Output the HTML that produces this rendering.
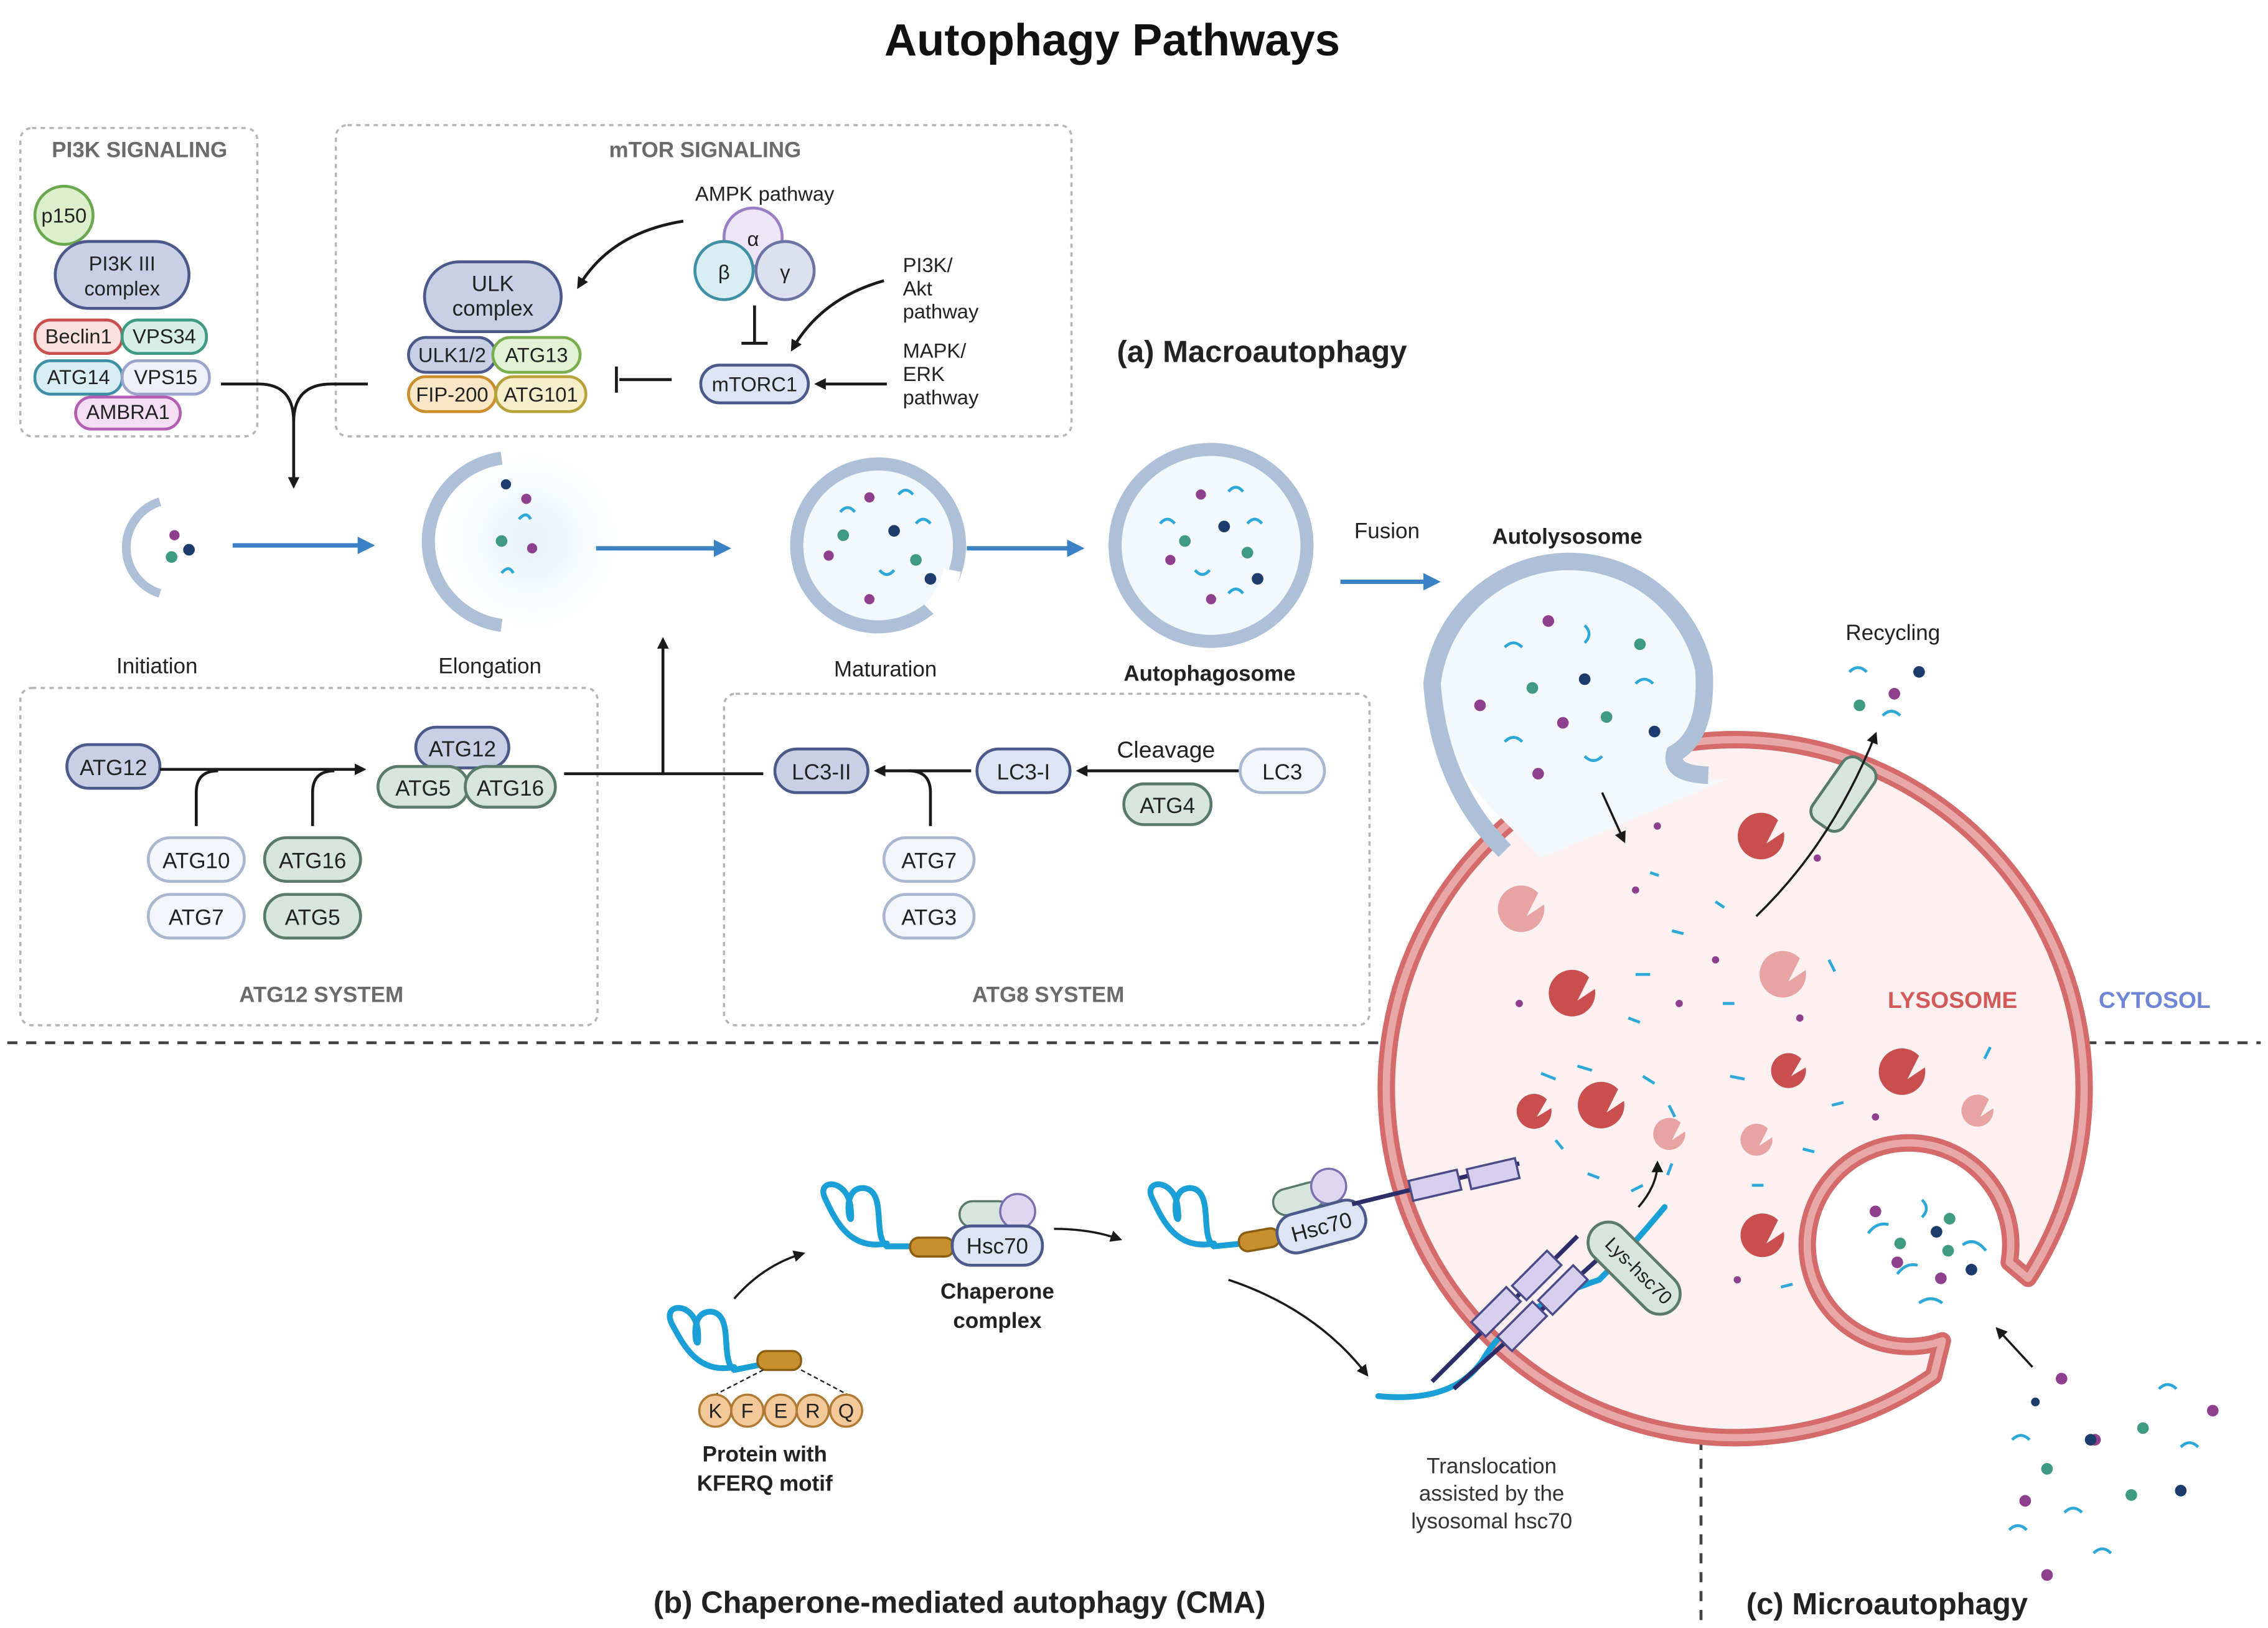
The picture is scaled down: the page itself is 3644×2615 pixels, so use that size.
<!DOCTYPE html>
<html><head><meta charset="utf-8"><style>
html,body{margin:0;padding:0;background:#fff;}
svg{display:block;}
text{font-family:"Liberation Sans",sans-serif;}
</style></head><body>
<svg width="3644" height="2615" viewBox="0 0 1560 1119.4" xmlns="http://www.w3.org/2000/svg">
<defs>
<marker id="ab" markerWidth="8" markerHeight="8" refX="6" refY="4" orient="auto" markerUnits="userSpaceOnUse"><path d="M0,0 L8,4 L0,8 z" fill="#1a1a1a"/></marker>
<marker id="bl" markerWidth="12" markerHeight="12" refX="9" refY="6" orient="auto" markerUnits="userSpaceOnUse"><path d="M0,0 L12,6 L0,12 z" fill="#3b82c4"/></marker>
<radialGradient id="vg" cx="0.5" cy="0.5" r="0.5"><stop offset="0" stop-color="#e6f2fa"/><stop offset="1" stop-color="#ffffff"/></radialGradient>
</defs>
<rect width="1560" height="1120" fill="#fff"/>
<text x="765" y="38" font-size="31" font-weight="bold" text-anchor="middle" fill="#111">Autophagy Pathways</text>

<g fill="none" stroke="#b5b5b5" stroke-width="1.5" stroke-dasharray="3,3">
<rect x="14" y="88" width="163" height="212" rx="8"/>
<rect x="231" y="86" width="506" height="214" rx="8"/>
<rect x="14" y="473" width="397" height="232" rx="8"/>
<rect x="498" y="477" width="444" height="228" rx="8"/>
</g>
<g font-size="15" font-weight="bold" fill="#6b6b6b" text-anchor="middle">
<text x="96" y="108">PI3K SIGNALING</text>
<text x="485" y="108">mTOR SIGNALING</text>
<text x="221" y="689">ATG12 SYSTEM</text>
<text x="721" y="689">ATG8 SYSTEM</text>
</g>

<g font-size="14" text-anchor="middle" fill="#222">
<circle cx="44" cy="148" r="20" fill="#dcefcc" stroke="#6aa84f" stroke-width="2"/><text x="44" y="153">p150</text>
<rect x="38" y="166" width="92" height="46" rx="23" fill="#c9d0e6" stroke="#4b5a8a" stroke-width="2"/>
<text x="84" y="186">PI3K III</text><text x="84" y="203">complex</text>
<rect x="24" y="220" width="60" height="23" rx="11" fill="#fbe0e0" stroke="#c94f4f" stroke-width="2"/><text x="54" y="236">Beclin1</text>
<rect x="84" y="220" width="58" height="23" rx="11" fill="#d6efe6" stroke="#3f9a82" stroke-width="2"/><text x="113" y="236">VPS34</text>
<rect x="24" y="248" width="60" height="23" rx="11" fill="#d8eef3" stroke="#3f8fa6" stroke-width="2"/><text x="54" y="264">ATG14</text>
<rect x="84" y="248" width="60" height="23" rx="11" fill="#eef0fa" stroke="#9da4cc" stroke-width="2"/><text x="114" y="264">VPS15</text>
<rect x="52" y="273" width="72" height="22" rx="11" fill="#f3def3" stroke="#b45fb4" stroke-width="2"/><text x="88" y="288">AMBRA1</text>
</g>

<g font-size="14" text-anchor="middle" fill="#222">
<rect x="292" y="180" width="94" height="48" rx="24" fill="#c9d0e6" stroke="#4b5a8a" stroke-width="2"/>
<text x="339" y="200" font-size="15">ULK</text><text x="339" y="217" font-size="15">complex</text>
<rect x="281" y="232" width="60" height="24" rx="12" fill="#c9d0e6" stroke="#4b5a8a" stroke-width="2"/><text x="311" y="249">ULK1/2</text>
<rect x="339" y="232" width="60" height="24" rx="12" fill="#e2f2d5" stroke="#79ad4f" stroke-width="2"/><text x="369" y="249">ATG13</text>
<rect x="281" y="259" width="60" height="24" rx="12" fill="#fbe6c5" stroke="#c98f2c" stroke-width="2"/><text x="311" y="276">FIP-200</text>
<rect x="341" y="259" width="62" height="24" rx="12" fill="#f6efcc" stroke="#b8a23b" stroke-width="2"/><text x="372" y="276">ATG101</text>
<circle cx="518" cy="163" r="20" fill="#ede6f6" stroke="#9b7fc4" stroke-width="2"/><text x="518" y="169">α</text>
<circle cx="498" cy="186" r="20" fill="#d8eef3" stroke="#3f8fa6" stroke-width="2"/><text x="498" y="192">β</text>
<circle cx="540" cy="186" r="20" fill="#dde0ef" stroke="#6c74a6" stroke-width="2"/><text x="540" y="192">γ</text>
<rect x="482" y="251" width="74" height="26" rx="13" fill="#dde4f3" stroke="#4b5a8a" stroke-width="2"/><text x="519" y="269">mTORC1</text>
</g>
<g font-size="14" fill="#222">
<text x="526" y="138" text-anchor="middle">AMPK pathway</text>
<text x="621" y="187">PI3K/</text><text x="621" y="203">Akt</text><text x="621" y="219">pathway</text>
<text x="621" y="246">MAPK/</text><text x="621" y="262">ERK</text><text x="621" y="278">pathway</text>
</g>
<g fill="none" stroke="#1a1a1a" stroke-width="2">
<path d="M470,152 Q420,160 398,197" marker-end="url(#ab)"/>
<path d="M608,193 Q565,205 545,240" marker-end="url(#ab)"/>
<path d="M610,264 L562,264" marker-end="url(#ab)"/>
<path d="M519,210 L519,236 M510,236 L528,236"/>
<path d="M462,261 L426,261 M424,252 L424,270"/>
<path d="M152,264 L178,264 Q202,264 202,290 M253,264 L228,264 Q202,264 202,290 L202,328" />
</g>
<path d="M202,326 L202,334" stroke="#1a1a1a" stroke-width="2" marker-end="url(#ab)"/>

<text x="868" y="249" font-size="21" font-weight="bold" fill="#222" text-anchor="middle">(a) Macroautophagy</text>

<path d="M110,345 A33,33 0 0 0 110,408" fill="none" stroke="#aebfd8" stroke-width="6"/>
<circle cx="120" cy="368" r="3.5" fill="#8e3f8e"/><circle cx="118" cy="383" r="4" fill="#3f9a82"/><circle cx="130" cy="378" r="4" fill="#1d3c6e"/>
<path d="M160,375 L255,375" stroke="#3b82c4" stroke-width="3" marker-end="url(#bl)"/>
<circle cx="365" cy="372" r="60" fill="url(#vg)"/>
<path d="M345,315 A58,58 0 0 0 345,430" fill="none" stroke="#aebfd8" stroke-width="9"/>
<circle cx="348" cy="333" r="3.5" fill="#1d3c6e"/><circle cx="362" cy="343" r="3.5" fill="#8e3f8e"/><circle cx="345" cy="372" r="4" fill="#3f9a82"/><circle cx="366" cy="377" r="3.5" fill="#8e3f8e"/>
<path d="M357,357 q5,-6 8,0 M345,394 q5,-6 8,0" stroke="#2ea8d8" stroke-width="2" fill="none"/>
<path d="M410,377 L500,377" stroke="#3b82c4" stroke-width="3" marker-end="url(#bl)"/>
<circle cx="604" cy="375" r="56" fill="#f2f8fc" stroke="#aebfd8" stroke-width="9"/>
<path d="M640,420 A56,56 0 0 0 655,392" stroke="#fff" stroke-width="12" fill="none"/>
<path d="M665,377 L743,377" stroke="#3b82c4" stroke-width="3" marker-end="url(#bl)"/>
<circle cx="833" cy="375" r="66" fill="#f2f8fc" stroke="#aebfd8" stroke-width="9"/>
<g fill="#3f9a82"><circle cx="580" cy="368" r="4"/><circle cx="630" cy="385" r="4"/><circle cx="815" cy="372" r="4"/><circle cx="858" cy="380" r="4"/></g>
<g fill="#8e3f8e"><circle cx="598" cy="342" r="3.5"/><circle cx="570" cy="382" r="3.5"/><circle cx="598" cy="412" r="3.5"/><circle cx="826" cy="340" r="3.5"/><circle cx="805" cy="385" r="3.5"/><circle cx="833" cy="412" r="3.5"/></g>
<g fill="#1d3c6e"><circle cx="615" cy="365" r="4"/><circle cx="640" cy="398" r="4"/><circle cx="842" cy="362" r="4"/><circle cx="865" cy="398" r="4"/></g>
<g stroke="#2ea8d8" stroke-width="2" fill="none"><path d="M578,352 q5,-6 10,0 M618,340 q5,-6 10,0 M605,392 q5,6 10,0 M630,360 q5,-6 10,0 M798,360 q5,-6 10,0 M845,338 q5,-6 10,0 M822,392 q5,6 10,0 M858,360 q5,-6 10,0 M845,408 q5,-6 10,0"/></g>
<path d="M922,400 L988,400" stroke="#3b82c4" stroke-width="3" marker-end="url(#bl)"/>
<g font-size="15" fill="#222" text-anchor="middle">
<text x="108" y="463">Initiation</text><text x="337" y="463">Elongation</text><text x="609" y="465">Maturation</text>
<text x="954" y="370">Fusion</text><text x="1302" y="440">Recycling</text>
</g>
<text x="832" y="468" font-size="15" font-weight="bold" fill="#222" text-anchor="middle">Autophagosome</text>
<text x="1078" y="374" font-size="15" font-weight="bold" fill="#222" text-anchor="middle">Autolysosome</text>

<g font-size="15" text-anchor="middle" fill="#222">
<rect x="46" y="512" width="64" height="30" rx="15" fill="#c9d0e6" stroke="#4b5a8a" stroke-width="2"/><text x="78" y="533">ATG12</text>
<rect x="286" y="500" width="64" height="28" rx="14" fill="#c9d0e6" stroke="#4b5a8a" stroke-width="2"/><text x="318" y="520">ATG12</text>
<rect x="260" y="527" width="62" height="28" rx="14" fill="#d7e5df" stroke="#5a7a6c" stroke-width="2"/><text x="291" y="547">ATG5</text>
<rect x="320" y="527" width="62" height="28" rx="14" fill="#d7e5df" stroke="#5a7a6c" stroke-width="2"/><text x="351" y="547">ATG16</text>
<rect x="102" y="576" width="66" height="30" rx="15" fill="#f3f6fb" stroke="#a9b8d0" stroke-width="2"/><text x="135" y="597">ATG10</text>
<rect x="102" y="615" width="66" height="30" rx="15" fill="#f3f6fb" stroke="#a9b8d0" stroke-width="2"/><text x="135" y="636">ATG7</text>
<rect x="182" y="576" width="66" height="30" rx="15" fill="#d7e5df" stroke="#5a7a6c" stroke-width="2"/><text x="215" y="597">ATG16</text>
<rect x="182" y="615" width="66" height="30" rx="15" fill="#d7e5df" stroke="#5a7a6c" stroke-width="2"/><text x="215" y="636">ATG5</text>
<rect x="533" y="515" width="64" height="30" rx="15" fill="#c9d0e6" stroke="#4b5a8a" stroke-width="2"/><text x="565" y="536">LC3-II</text>
<rect x="672" y="515" width="64" height="30" rx="15" fill="#dde4f3" stroke="#4b5a8a" stroke-width="2"/><text x="704" y="536">LC3-I</text>
<rect x="853" y="515" width="58" height="30" rx="15" fill="#f3f6fb" stroke="#a9b8d0" stroke-width="2"/><text x="882" y="536">LC3</text>
<rect x="773" y="539" width="60" height="28" rx="14" fill="#d7e5df" stroke="#5a7a6c" stroke-width="2"/><text x="803" y="559">ATG4</text>
<rect x="608" y="576" width="62" height="30" rx="15" fill="#f3f6fb" stroke="#a9b8d0" stroke-width="2"/><text x="639" y="597">ATG7</text>
<rect x="608" y="615" width="62" height="30" rx="15" fill="#f3f6fb" stroke="#a9b8d0" stroke-width="2"/><text x="639" y="636">ATG3</text>
<text x="802" y="521" font-size="16">Cleavage</text>
</g>
<g fill="none" stroke="#1a1a1a" stroke-width="2">
<path d="M110,529 L250,529" marker-end="url(#ab)"/>
<path d="M135,568 L135,545 Q135,530 150,530"/>
<path d="M215,568 L215,545 Q215,530 230,530"/>
<path d="M388,532 L525,532"/>
<path d="M456,532 L456,440" marker-end="url(#ab)"/>
<path d="M852,530 L742,530" marker-end="url(#ab)"/>
<path d="M668,530 L603,530" marker-end="url(#ab)"/>
<path d="M640,568 L640,545 Q640,530 625,530"/>
</g>

<line x1="5" y1="717" x2="1555" y2="717" stroke="#444" stroke-width="2" stroke-dasharray="7,6"/>
<line x1="1170" y1="717" x2="1170" y2="1119" stroke="#444" stroke-width="2" stroke-dasharray="7,6"/>

<!-- lysosome with microautophagy invagination -->
<path d="M1330,946 A240,240 0 1 1 1395,879 L1382,868 A70,70 0 1 0 1336,922 Z" fill="#fcf0f0" stroke="#d46a6a" stroke-width="12" stroke-linejoin="round"/>
<path d="M1330,946 A240,240 0 1 1 1395,879 L1382,868 A70,70 0 1 0 1336,922 Z" fill="none" stroke="#e8a8a8" stroke-width="5" stroke-linejoin="round"/>
<!-- autolysosome bulb -->
<path d="M1030,560 Q990,520 985,470 A95,95 0 0 1 1170,455 Q1175,500 1150,520 Q1160,540 1190,535 L1060,590 Z" fill="#f2f8fc"/>
<path d="M1035,585 Q990,540 985,470 A95,95 0 0 1 1172,460 Q1175,505 1152,518 Q1148,532 1175,533" fill="none" stroke="#aebfd8" stroke-width="12"/>
<text x="1343" y="693" font-size="16" font-weight="bold" fill="#d45a5a" text-anchor="middle">LYSOSOME</text>
<text x="1482" y="693" font-size="16" font-weight="bold" fill="#6f86d6" text-anchor="middle">CYTOSOL</text>
<g fill="#c94f4f">
<path d="M1215,580 l12,-8 a16,16 0 1 1 -4,-8 z"/>
<path d="M1085,688 l12,-8 a16,16 0 1 1 -4,-8 z"/>
<path d="M1105,765 l12,-8 a16,16 0 1 1 -4,-8 z"/>
<path d="M1312,742 l12,-8 a16,16 0 1 1 -4,-8 z"/>
<path d="M1232,740 l10,-6 a12,12 0 1 1 -3,-6 z"/>
<path d="M1057,768 l10,-6 a12,12 0 1 1 -3,-6 z"/>
<path d="M1215,855 l12,-8 a15,15 0 1 1 -4,-8 z"/>
</g>
<g fill="#e8a3a3">
<path d="M1050,630 l12,-8 a16,16 0 1 1 -4,-8 z"/>
<path d="M1230,675 l12,-8 a16,16 0 1 1 -4,-8 z"/>
<path d="M1150,784 l9,-6 a11,11 0 1 1 -3,-6 z"/>
<path d="M1210,788 l9,-6 a11,11 0 1 1 -3,-6 z"/>
<path d="M1362,768 l9,-6 a11,11 0 1 1 -3,-6 z"/>
</g>
<g fill="#8e3f8e"><circle cx="1065" cy="427" r="4"/><circle cx="1018" cy="485" r="4"/><circle cx="1075" cy="497" r="4"/><circle cx="1058" cy="532" r="4"/><circle cx="1303" cy="477" r="4"/><circle cx="1290" cy="833" r="4"/><circle cx="1305" cy="868" r="4"/><circle cx="1335" cy="879" r="4"/><circle cx="1418" cy="948" r="4"/><circle cx="1393" cy="1032" r="4"/><circle cx="1408" cy="1083" r="4"/><circle cx="1522" cy="970" r="4"/><circle cx="1441" cy="990" r="4"/></g>
<g fill="#3f9a82"><circle cx="1128" cy="443" r="4"/><circle cx="1054" cy="473" r="4"/><circle cx="1105" cy="493" r="4"/><circle cx="1279" cy="485" r="4"/><circle cx="1307" cy="855" r="4"/><circle cx="1340" cy="860" r="4"/><circle cx="1341" cy="838" r="4"/><circle cx="1408" cy="1010" r="4"/><circle cx="1466" cy="1028" r="4"/><circle cx="1474" cy="982" r="4"/></g>
<g fill="#1d3c6e"><circle cx="1090" cy="467" r="4"/><circle cx="1138" cy="503" r="4"/><circle cx="1320" cy="462" r="4"/><circle cx="1332" cy="847" r="4"/><circle cx="1356" cy="873" r="4"/><circle cx="1438" cy="990" r="4"/><circle cx="1500" cy="1025" r="4"/><circle cx="1400" cy="964" r="3"/></g>
<g stroke="#2ea8d8" stroke-width="2" fill="none">
<path d="M1035,445 q6,-6 12,0 M1090,430 q6,6 0,12 M1125,470 q6,-6 12,0 M1035,510 q6,-6 12,0 M1090,520 q6,6 12,0 M1272,462 q6,-6 12,0 M1295,492 q6,-6 12,0 M1322,825 q6,6 0,12 M1285,848 q6,-8 14,-6 M1305,876 q6,-8 14,-6 M1350,856 q8,-6 16,4 M1320,896 q8,-6 16,0 M1384,990 q6,-6 12,0 M1420,1040 q6,-6 12,0 M1382,1052 q6,-6 12,0 M1440,1068 q6,-6 12,0 M1485,955 q6,-6 12,0 M1500,995 q6,-6 12,0"/>
<path d="M1060,738 l10,4 M1085,733 l10,3 M1130,740 l8,5 M1148,760 l4,8 M1150,800 l-3,8 M1130,815 l-8,4 M1100,810 l-8,-3 M1075,790 l-5,-6 M1190,740 l10,2 M1240,790 l8,2 M1260,760 l8,-2 M1365,728 l4,-8 M1205,815 l8,0 M1225,885 l8,-2 M1125,670 l10,0 M1150,640 l8,2 M1180,620 l6,4 M1185,690 l8,0 M1258,660 l4,8 M1120,700 l8,3 M1135,600 l6,2"/>
</g>
<g fill="#8e3f8e"><circle cx="1140" cy="568" r="2.5"/><circle cx="1125" cy="612" r="2.5"/><circle cx="1180" cy="660" r="2.5"/><circle cx="1045" cy="690" r="2.5"/><circle cx="1250" cy="590" r="2.5"/><circle cx="1238" cy="700" r="2.5"/><circle cx="1155" cy="690" r="2.5"/><circle cx="1290" cy="768" r="2.5"/><circle cx="1195" cy="880" r="2.5"/></g>
<rect x="1255" y="520" width="26" height="52" rx="8" fill="#d7e5df" stroke="#5a7a6c" stroke-width="2" transform="rotate(35 1268 546)"/>
<path d="M1208,630 Q1260,580 1290,505" fill="none" stroke="#1a1a1a" stroke-width="1.5" marker-end="url(#ab)"/>
<path d="M1102,545 L1117,578" stroke="#1a1a1a" stroke-width="1.5" marker-end="url(#ab)"/>

<g stroke="#1a9fd6" stroke-width="4" fill="none" stroke-linecap="round">
<path d="M505,940 C480,945 470,925 462,910 C455,895 478,895 480,915 C482,940 470,900 490,902 C505,905 495,935 505,942 L525,938"/>
<path d="M610,855 C585,860 575,840 568,825 C560,810 583,810 585,830 C588,855 575,815 595,817 C610,820 600,850 610,857 L630,857"/>
<path d="M835,855 C810,860 800,840 793,825 C785,810 808,810 810,830 C813,855 800,815 820,817 C835,820 825,850 835,857 L855,855"/>
<path d="M948,960 Q1000,965 1020,935 Q1040,900 1100,880 Q1120,860 1145,830"/>
</g>
<rect x="521" y="929" width="30" height="13" rx="6" fill="#c8902c" stroke="#8a5e12" stroke-width="1.5"/>
<rect x="626" y="851" width="30" height="13" rx="6" fill="#c8902c" stroke="#8a5e12" stroke-width="1.5"/>
<rect x="852" y="846" width="28" height="13" rx="6" fill="#c8902c" stroke="#8a5e12" stroke-width="1.5" transform="rotate(-10 866 852)"/>
<g stroke="#222" stroke-width="1" stroke-dasharray="3,2"><line x1="525" y1="942" x2="490" y2="960"/><line x1="551" y1="942" x2="585" y2="960"/></g>
<g font-size="14" text-anchor="middle" fill="#222">
<g fill="#f3c99a" stroke="#b07a34" stroke-width="1.5">
<circle cx="492" cy="970" r="11"/><circle cx="514" cy="970" r="11"/><circle cx="537" cy="970" r="11"/><circle cx="559" cy="970" r="11"/><circle cx="582" cy="970" r="11"/></g>
<text x="492" y="975">K</text><text x="514" y="975">F</text><text x="537" y="975">E</text><text x="559" y="975">R</text><text x="582" y="975">Q</text>
</g>
<rect x="660" y="826" width="36" height="18" rx="9" fill="#d7e5df" stroke="#5a7a6c" stroke-width="1.5"/>
<circle cx="700" cy="833" r="12" fill="#ddd8f0" stroke="#7b6fb0" stroke-width="1.5"/>
<rect x="655" y="843" width="62" height="27" rx="13" fill="#dde4f3" stroke="#4b5a8a" stroke-width="2"/>
<text x="686" y="862" font-size="15" text-anchor="middle" fill="#222">Hsc70</text>
<g transform="rotate(-15 908 840)">
<rect x="880" y="812" width="36" height="18" rx="9" fill="#d7e5df" stroke="#5a7a6c" stroke-width="1.5"/>
<circle cx="920" cy="818" r="12" fill="#ddd8f0" stroke="#7b6fb0" stroke-width="1.5"/>
<rect x="877" y="830" width="62" height="27" rx="13" fill="#dde4f3" stroke="#4b5a8a" stroke-width="2"/>
<text x="908" y="849" font-size="15" text-anchor="middle" fill="#222">Hsc70</text>
</g>
<g stroke="#2d2d6a" stroke-width="3"><line x1="930" y1="828" x2="1045" y2="800"/><line x1="985" y1="950" x2="1085" y2="850"/><line x1="1000" y1="955" x2="1100" y2="865"/></g>
<g fill="#d6d0ee" stroke="#4b4b8a" stroke-width="1.5">
<rect x="970" y="808" width="34" height="14" transform="rotate(-13 987 815)"/>
<rect x="1010" y="800" width="34" height="14" transform="rotate(-13 1027 807)"/>
<rect x="1012" y="895" width="34" height="14" transform="rotate(-45 1029 902)"/>
<rect x="1040" y="870" width="34" height="14" transform="rotate(-45 1057 877)"/>
<rect x="1030" y="905" width="34" height="14" transform="rotate(-45 1047 912)"/>
<rect x="1058" y="880" width="34" height="14" transform="rotate(-45 1075 887)"/>
</g>
<rect x="1085" y="858" width="78" height="28" rx="14" fill="#d7e5df" stroke="#5a7a6c" stroke-width="2" transform="rotate(45 1124 872)"/>
<text x="1124" y="877" font-size="13" text-anchor="middle" fill="#222" transform="rotate(45 1124 877)">Lys-hsc70</text>
<g fill="none" stroke="#1a1a1a" stroke-width="1.5">
<path d="M505,893 Q525,870 552,862" marker-end="url(#ab)"/>
<path d="M725,845 Q750,845 770,852" marker-end="url(#ab)"/>
<path d="M845,880 Q905,900 940,945" marker-end="url(#ab)"/>
<path d="M1127,830 Q1140,815 1140,800" marker-end="url(#ab)"/>
<path d="M1398,940 L1374,914" marker-end="url(#ab)"/>
</g>
<g font-size="15" font-weight="bold" fill="#222" text-anchor="middle">
<text x="686" y="893">Chaperone</text><text x="686" y="913">complex</text>
<text x="526" y="1005">Protein with</text><text x="526" y="1025">KFERQ motif</text>
</g>
<g font-size="15" fill="#333" text-anchor="middle">
<text x="1026" y="1013">Translocation</text><text x="1026" y="1032">assisted by the</text><text x="1026" y="1051">lysosomal hsc70</text>
</g>
<g font-size="21" font-weight="bold" fill="#222" text-anchor="middle">
<text x="660" y="1109">(b) Chaperone-mediated autophagy (CMA)</text>
<text x="1298" y="1110">(c) Microautophagy</text>
</g>
</svg>
</body></html>
